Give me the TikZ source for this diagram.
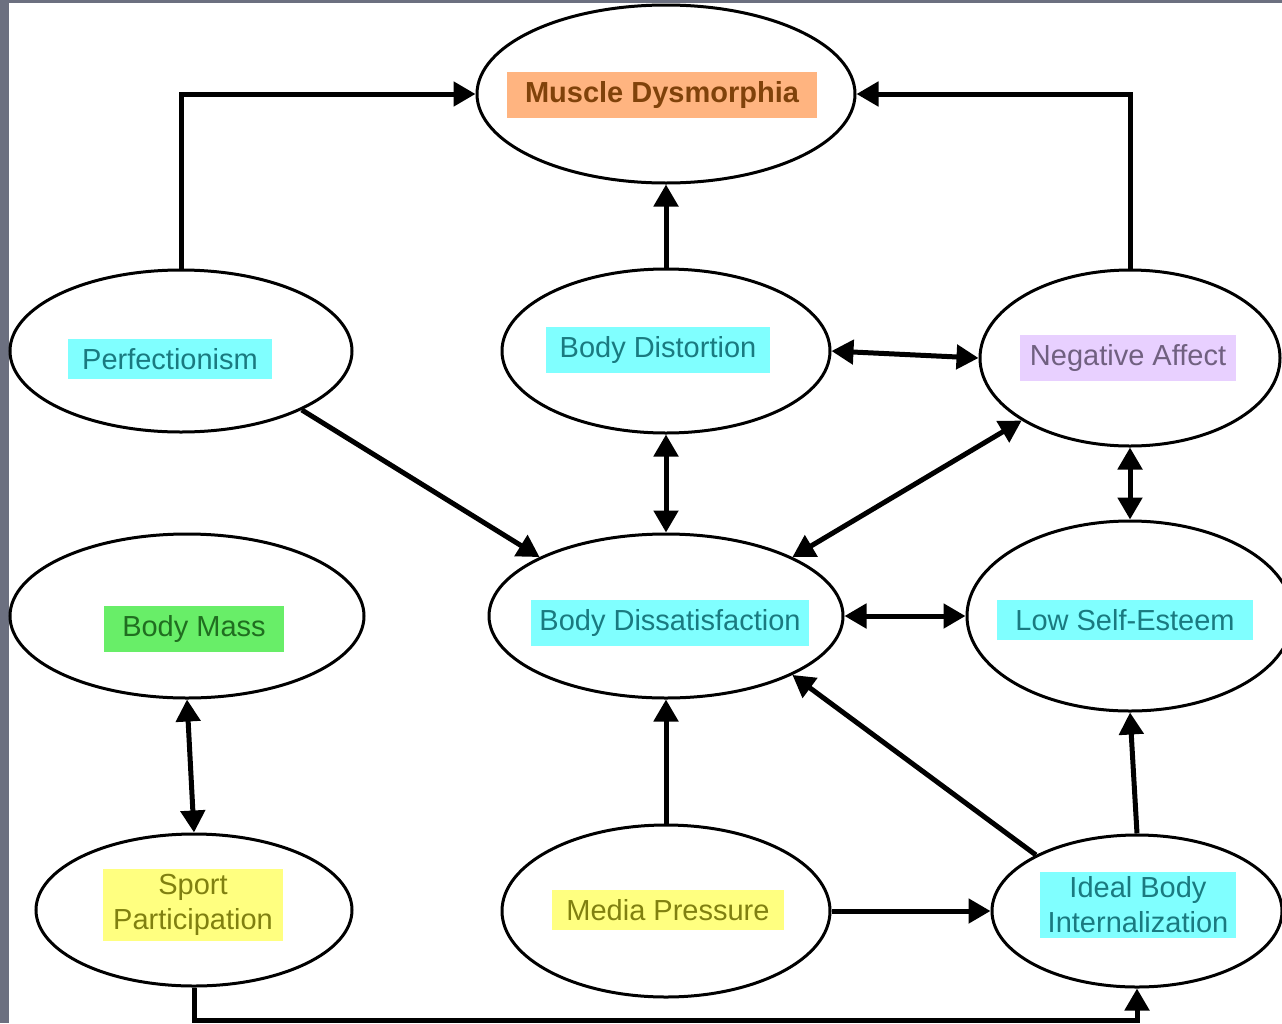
\documentclass[tikz,border=0pt]{standalone}
\usepackage{fontspec}
\setmainfont{Liberation Sans}
\usetikzlibrary{shapes.geometric,arrows.meta}
\definecolor{framegray}{RGB}{108,112,128}
\definecolor{hlcyan}{RGB}{128,255,255}
\definecolor{txcyan}{RGB}{26,122,128}
\definecolor{hlorange}{RGB}{255,180,128}
\definecolor{txorange}{RGB}{128,66,10}
\definecolor{hlpurple}{RGB}{232,208,255}
\definecolor{txpurple}{RGB}{112,96,128}
\definecolor{hlgreen}{RGB}{104,238,104}
\definecolor{txgreen}{RGB}{32,110,32}
\definecolor{hlyellow}{RGB}{255,255,128}
\definecolor{txyellow}{RGB}{128,128,16}

\begin{document}
\begin{tikzpicture}[x=1pt, y=-1pt,
  oval/.style={ellipse, draw, line width=3pt, inner sep=0pt},
  hl/.style={fill=hl#1, text=tx#1, font=\fontsize{29}{35}\selectfont,
    inner xsep=14pt, inner ysep=9pt, align=center},
  arr/.style={line width=5pt, -{Triangle[length=22pt,width=24pt]}},
  arrr/.style={line width=5pt, {Triangle[length=22pt,width=24pt]}-{Triangle[length=22pt,width=24pt]}}]
  \useasboundingbox (0,0) rectangle (1282,1023);
  \fill[framegray] (0,0) rectangle (9,1023);
  \fill[framegray] (0,0) rectangle (1282,3);

  % ovals
  \node[oval, minimum width=378pt, minimum height=178pt] (md) at (666,94) {};
  \node[oval, minimum width=342pt, minimum height=162pt] (perf) at (181,351) {};
  \node[oval, minimum width=328pt, minimum height=164pt] (dist) at (666,351) {};
  \node[oval, minimum width=300pt, minimum height=176pt] (neg) at (1130,358) {};
  \node[oval, minimum width=354pt, minimum height=164pt] (mass) at (187,616) {};
  \node[oval, minimum width=354pt, minimum height=164pt] (diss) at (666,616) {};
  \node[oval, minimum width=326pt, minimum height=190pt] (lse) at (1130,616) {};
  \node[oval, minimum width=316pt, minimum height=152pt] (sport) at (194,910) {};
  \node[oval, minimum width=328pt, minimum height=172pt] (media) at (666,911) {};
  \node[oval, minimum width=290pt, minimum height=152pt] (ideal) at (1137,911) {};

  % labels
  \node[hl=orange, font=\fontsize{29}{35}\selectfont\bfseries, inner xsep=18pt] (mdt) at (662,95) {Muscle Dysmorphia};
  \node[hl=cyan] (perft) at (170,359) {Perfectionism};
  \node[hl=cyan] (distt) at (658,350) {Body Distortion};
  \node[hl=purple, inner xsep=10pt] (negt) at (1128,358) {Negative Affect};
  \node[hl=green, inner xsep=18pt] (masst) at (194,629) {Body Mass};
  \node[hl=cyan, inner xsep=8pt] (disst) at (670,623) {Body Dissatisfaction};
  \node[hl=cyan, inner xsep=18pt] (lset) at (1125,620) {Low Self-Esteem};
  \node[hl=yellow, inner xsep=10pt, inner ysep=5pt] (sportt) at (193,905) {Sport\\Participation};
  \node[hl=yellow, inner xsep=14pt] (mediat) at (668,910) {Media Pressure};
  \node[hl=cyan, inner xsep=8pt, inner ysep=5pt] (idealt) at (1138,905) {Ideal Body\\Internalization};

  % connectors
  \coordinate (bot) at (666,1020);
  \draw[arr] (perf.north) |- (md.west);
  \draw[arr] (neg.north) |- (md.east);
  \draw[arr] (dist.north) -- (md.south);
  \draw[arrr] (dist.east) -- (neg.west);
  \draw[arrr] (dist.south) -- (diss.north);
  \draw[arr] (perf.-26.6) -- (diss.155);
  \draw[arrr] (neg.210.6) -- (diss.25.4);
  \draw[arrr] (neg.south) -- (lse.north);
  \draw[arrr] (diss.east) -- (lse.west);
  \draw[arrr] (mass.south) -- (sport.north);
  \draw[arr] (media.north) -- (diss.south);
  \draw[arr] (ideal.151.7) -- (diss.-25.4);
  \draw[arr] (ideal.north) -- (lse.south);
  \draw[arr] (media.east) -- (ideal.west);
  \draw[arr] (sport.south) |- (bot) -| (ideal.south);
\end{tikzpicture}
\end{document}
